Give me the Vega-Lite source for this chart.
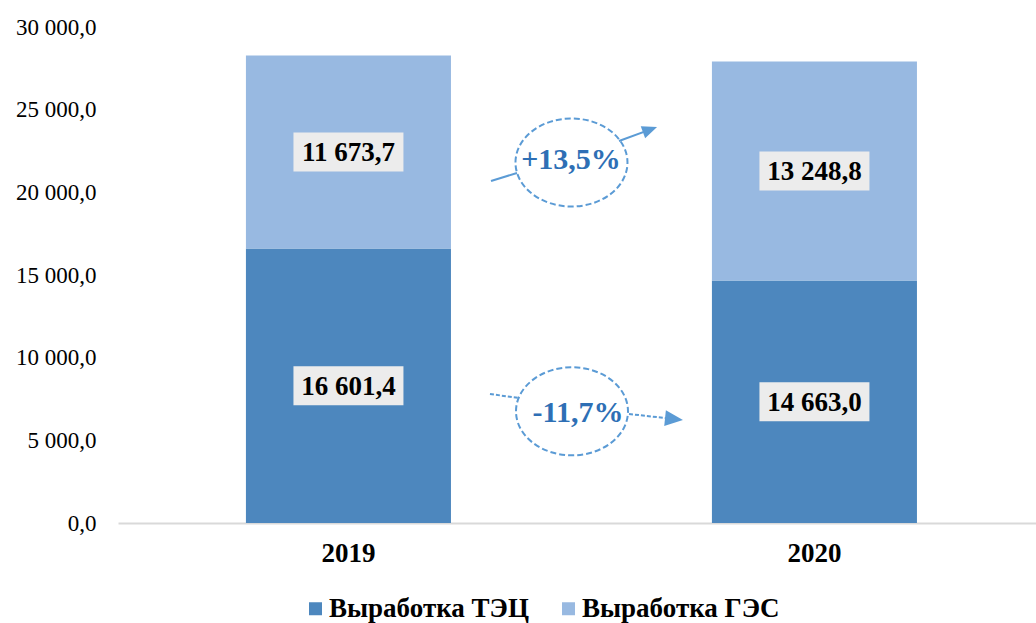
{
  "$schema": "https://vega.github.io/schema/vega-lite/v6.json",
  "width": 918,
  "height": 496,
  "autosize": {"type": "none"},
  "padding": {"left": 118, "top": 27, "right": 0, "bottom": 100},
  "config": {
    "locale": {"number": {"decimal": ",", "thousands": " ", "grouping": [3], "currency": ["", ""]}},
    "view": {"stroke": null},
    "font": "Liberation Serif",
    "axis": {"labelFont": "Liberation Serif", "titleFont": "Liberation Serif"},
    "axisY": {"labelFont": "Liberation Serif", "labelFontSize": 23, "labelColor": "#000", "labelPadding": 22, "domain": false, "ticks": false, "grid": false},
    "legend": {"labelFont": "Liberation Serif"}
  },
  "datasets": {
    "bars": [
      {"year": "2019", "type": "Выработка ТЭЦ", "value": 16601.4, "order": 1},
      {"year": "2019", "type": "Выработка ГЭС", "value": 11673.7, "order": 2},
      {"year": "2020", "type": "Выработка ТЭЦ", "value": 14663.0, "order": 1},
      {"year": "2020", "type": "Выработка ГЭС", "value": 13248.8, "order": 2}
    ],
    "ellipses": [
      {"name": "ГЭС", "idx": 0.4785, "val": 21805, "tidx": 0.4775, "tval": 21956, "label": "+13,5%"},
      {"name": "ТЭЦ", "idx": 0.4796, "val": 6756, "tidx": 0.4925, "tval": 6653, "label": "-11,7%"}
    ],
    "arrows": [
      {"arrow": "up", "seg": "up-a", "idx": 0.3058, "val": 20686},
      {"arrow": "up", "seg": "up-a", "idx": 0.3616, "val": 21169},
      {"arrow": "up", "seg": "up-b", "idx": 0.5805, "val": 23105},
      {"arrow": "up", "seg": "up-b", "idx": 0.647, "val": 23794},
      {"arrow": "down", "seg": "down-a", "idx": 0.3036, "val": 7802},
      {"arrow": "down", "seg": "down-a", "idx": 0.3659, "val": 7560},
      {"arrow": "down", "seg": "down-b", "idx": 0.6019, "val": 6593},
      {"arrow": "down", "seg": "down-b", "idx": 0.6985, "val": 6290}
    ],
    "heads": [
      {"arrow": "up", "idx": 0.647, "val": 23794},
      {"arrow": "down", "idx": 0.6985, "val": 6290}
    ]
  },
  "layer": [
    {
      "data": {"name": "bars"},
      "layer": [
        {
          "mark": {"type": "bar"},
          "encoding": {
            "x": {
              "field": "year", "type": "nominal",
              "scale": {"paddingInner": 0.56, "paddingOuter": 0.265, "align": 0.518},
              "axis": {"title": null, "labelAngle": 0, "ticks": false, "domainColor": "#d9d9d9", "domainWidth": 2, "labelFontSize": 27, "labelFontWeight": "bold", "labelColor": "#000", "labelPadding": 17, "labelFont": "Liberation Serif"}
            },
            "y": {
              "field": "value", "type": "quantitative", "stack": "zero",
              "scale": {"domain": [0, 30000], "nice": false},
              "axis": {"title": null, "values": [0, 5000, 10000, 15000, 20000, 25000, 30000], "format": ",.1f", "domain": false, "ticks": false, "grid": false, "labelFontSize": 23, "labelColor": "#000", "labelPadding": 22, "labelFont": "Liberation Serif"}
            },
            "color": {
              "field": "type", "type": "nominal",
              "scale": {"domain": ["Выработка ТЭЦ", "Выработка ГЭС"], "range": ["#4d87be", "#98b9e1"]},
              "legend": {"title": null, "orient": "none", "legendX": 184, "legendY": 568, "direction": "horizontal", "symbolType": "square", "symbolSize": 169, "symbolStrokeWidth": 0, "labelFontSize": 27, "labelFontWeight": "bold", "labelColor": "#000", "labelFont": "Liberation Serif", "labelLimit": 400, "columnPadding": 26, "labelOffset": 0}
            },
            "order": {"field": "order", "type": "quantitative"}
          }
        },
        {
          "transform": [
            {"stack": "value", "groupby": ["year"], "sort": [{"field": "order"}], "as": ["v0", "v1"]},
            {"calculate": "(datum.v0 + datum.v1) / 2", "as": "mid"}
          ],
          "layer": [
            {
              "mark": {"type": "point", "shape": "M-1,-0.3545L1,-0.3545L1,0.3545L-1,0.3545Z", "size": 12100, "filled": true, "color": "#ececec", "opacity": 1},
              "encoding": {
                "x": {"field": "year", "type": "nominal"},
                "y": {"field": "mid", "type": "quantitative", "scale": {"domain": [0, 30000], "nice": false}, "title": null}
              }
            },
            {
              "mark": {"type": "text", "fontSize": 27, "fontWeight": "bold", "color": "#000", "baseline": "middle", "dy": 1, "font": "Liberation Serif"},
              "encoding": {
                "x": {"field": "year", "type": "nominal"},
                "y": {"field": "mid", "type": "quantitative", "scale": {"domain": [0, 30000], "nice": false}, "title": null},
                "text": {"field": "value", "type": "quantitative", "format": ",.1f"}
              }
            }
          ]
        }
      ]
    },
    {
      "layer": [
        {
          "data": {"name": "ellipses"},
          "mark": {"type": "point", "shape": "M-1,0A1,0.786,0,1,1,1,0A1,0.786,0,1,1,-1,0Z", "size": 12544, "filled": false, "stroke": "#5b9bd5", "strokeWidth": 2, "strokeDash": [6, 3], "opacity": 1},
          "encoding": {
            "x": {"field": "idx", "type": "quantitative", "scale": {"domain": [-0.4946, 1.4753], "nice": false, "zero": false}, "axis": null},
            "y": {"field": "val", "type": "quantitative", "scale": {"domain": [0, 30000], "nice": false}, "title": null}
          }
        },
        {
          "data": {"name": "ellipses"},
          "mark": {"type": "text", "fontSize": 30, "fontWeight": "bold", "color": "#2e6fb5", "baseline": "middle", "font": "Liberation Serif"},
          "encoding": {
            "x": {"field": "tidx", "type": "quantitative", "scale": {"domain": [-0.4946, 1.4753], "nice": false, "zero": false}, "axis": null},
            "y": {"field": "tval", "type": "quantitative", "scale": {"domain": [0, 30000], "nice": false}, "title": null},
            "text": {"field": "label", "type": "nominal"}
          }
        },
        {
          "data": {"name": "arrows"},
          "transform": [{"filter": "datum.arrow == 'up'"}],
          "mark": {"type": "line", "color": "#5b9bd5", "strokeWidth": 2},
          "encoding": {
            "x": {"field": "idx", "type": "quantitative", "scale": {"domain": [-0.4946, 1.4753], "nice": false, "zero": false}, "axis": null},
            "y": {"field": "val", "type": "quantitative", "scale": {"domain": [0, 30000], "nice": false}, "title": null},
            "detail": {"field": "seg", "type": "nominal"}
          }
        },
        {
          "data": {"name": "arrows"},
          "transform": [{"filter": "datum.arrow == 'down'"}],
          "mark": {"type": "line", "color": "#5b9bd5", "strokeWidth": 2, "strokeDash": [4, 2]},
          "encoding": {
            "x": {"field": "idx", "type": "quantitative", "scale": {"domain": [-0.4946, 1.4753], "nice": false, "zero": false}, "axis": null},
            "y": {"field": "val", "type": "quantitative", "scale": {"domain": [0, 30000], "nice": false}, "title": null},
            "detail": {"field": "seg", "type": "nominal"}
          }
        },
        {
          "data": {"name": "heads"},
          "transform": [{"filter": "datum.arrow == 'up'"}],
          "mark": {"type": "point", "shape": "M1,0L-1,-0.85L-1,0.85Z", "size": 225, "filled": true, "color": "#5b9bd5", "opacity": 1, "angle": -20},
          "encoding": {
            "x": {"field": "idx", "type": "quantitative", "scale": {"domain": [-0.4946, 1.4753], "nice": false, "zero": false}, "axis": null},
            "y": {"field": "val", "type": "quantitative", "scale": {"domain": [0, 30000], "nice": false}, "title": null}
          }
        },
        {
          "data": {"name": "heads"},
          "transform": [{"filter": "datum.arrow == 'down'"}],
          "mark": {"type": "point", "shape": "M1,0L-1,-0.88L-1,0.88Z", "size": 324, "filled": true, "color": "#5b9bd5", "opacity": 1, "angle": 6},
          "encoding": {
            "x": {"field": "idx", "type": "quantitative", "scale": {"domain": [-0.4946, 1.4753], "nice": false, "zero": false}, "axis": null},
            "y": {"field": "val", "type": "quantitative", "scale": {"domain": [0, 30000], "nice": false}, "title": null}
          }
        }
      ]
    }
  ],
  "resolve": {"scale": {"x": "independent"}}
}
